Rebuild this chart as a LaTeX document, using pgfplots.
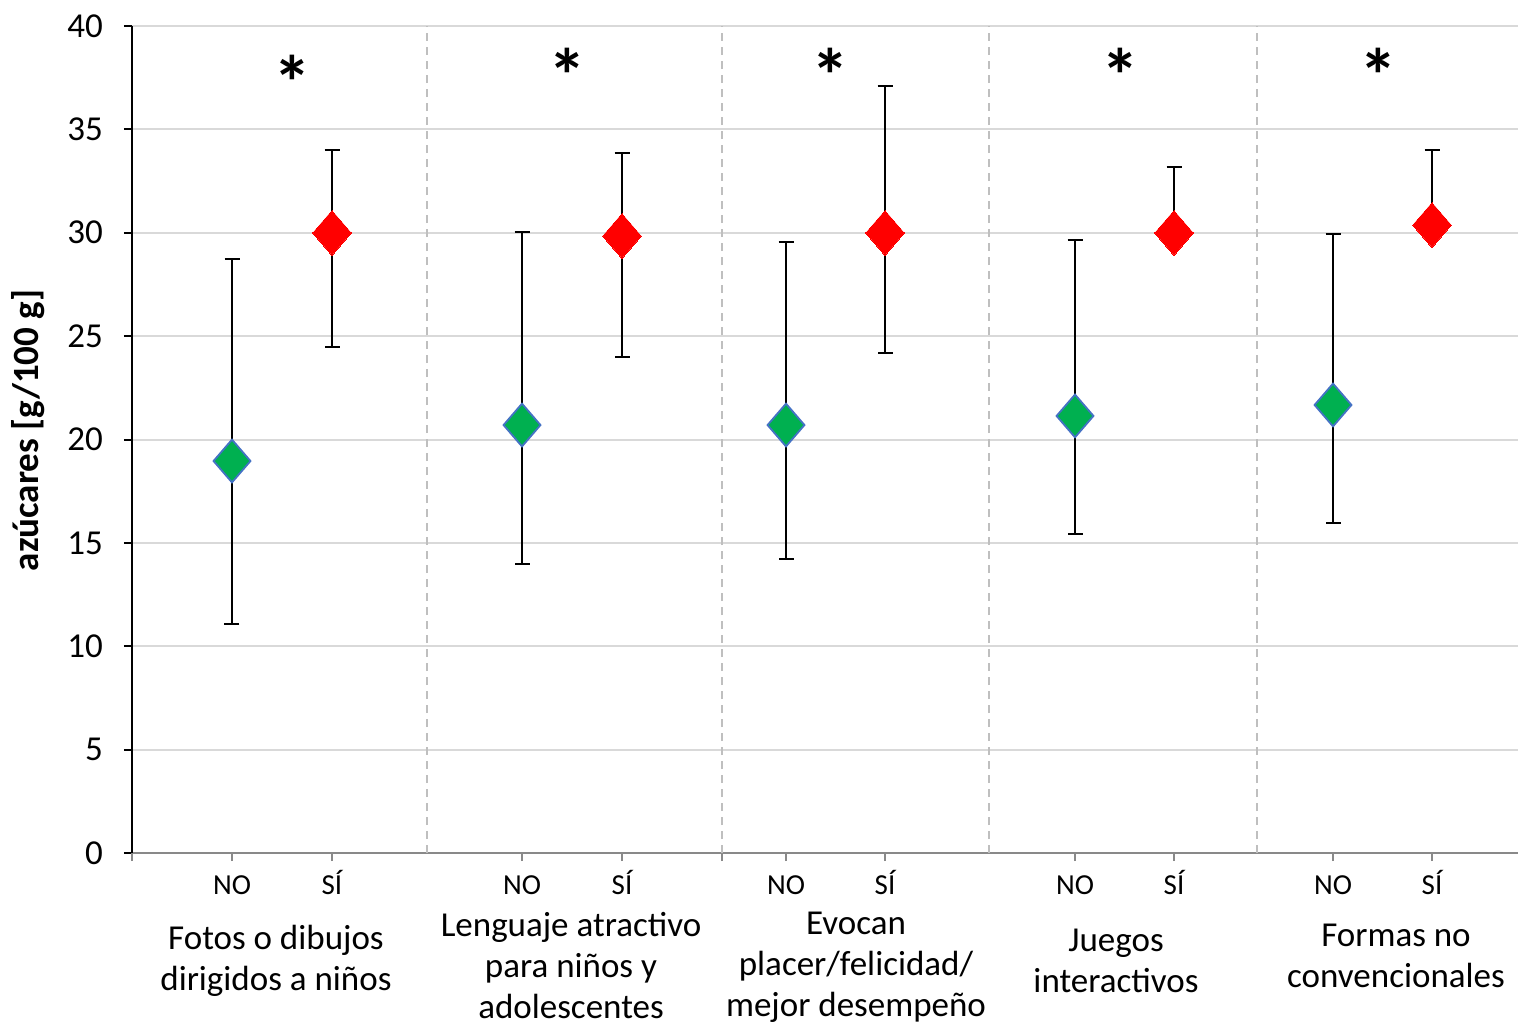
\documentclass[border=0pt]{standalone}
\usepackage{pgfplots}
\pgfplotsset{compat=1.18}
\usepackage{pgfplotstable}
\usepackage{fontspec}
\setmainfont{Carlito}
\definecolor{gridc}{HTML}{D9D9D9}
\definecolor{sepc}{HTML}{BFBFBF}
\definecolor{axgray}{HTML}{898989}
\definecolor{mygreen}{HTML}{00B050}
\definecolor{myblue}{HTML}{4472C4}
\definecolor{myred}{HTML}{FF0000}

\pgfplotstableread{
x y ep em
232 18.96 9.77 7.88
522 20.70 9.34 6.72
786 20.70 8.85 6.48
1075 21.14 8.51 5.71
1333 21.67 8.27 5.71
}\nodata

\pgfplotstableread{
x y ep em
332 29.99 4.01 5.52
622 29.84 4.02 5.85
885 29.99 7.11 5.81
1174 29.99 3.19 0
1432 30.37 3.63 0
}\sidata

\begin{document}
\begin{tikzpicture}
\path[use as bounding box] (-66pt,-85.5pt) rectangle (693pt,426.5pt);
\begin{axis}[
  at={(0,0)}, anchor=south west,
  width=693pt, height=413.5pt, scale only axis,
  xmin=132, xmax=1518, ymin=0, ymax=40,
  clip=false,
  axis x line*=bottom, axis y line*=left,
  x axis line style={color=axgray, line width=1pt},
  y axis line style={color=black, line width=1pt},
  ytick={0,5,...,40},
  ymajorgrids, grid style={gridc, line width=1pt},
  tick align=outside, major tick length=4pt,
  xtick style={axgray, line width=1pt},
  ytick style={black, line width=1pt},
  xtick={232,332,522,622,786,885,1075,1174,1333,1432},
  xticklabels={NO,SÍ,NO,SÍ,NO,SÍ,NO,SÍ,NO,SÍ},
  extra x ticks={132,722},
  extra x tick labels={},
  extra x tick style={xtick style={axgray, line width=1pt}},
  xticklabel style={font=\fontsize{14.5}{16}\selectfont, text height=11pt, text depth=0pt, yshift=-2pt},
  yticklabel style={font=\fontsize{17.5}{20}\selectfont, xshift=-7pt},
  /pgf/number format/assume math mode=true,
  ylabel={azúcares [g/100 g]},
  ylabel style={font=\fontsize{18.5}{20}\selectfont\bfseries, at={(axis description cs:0,0.511)}, anchor=center, yshift=52pt},
]
\foreach \s in {427,722,989,1257}{
  \edef\tmp{\noexpand\draw[sepc, line width=0.8pt, dash pattern=on 4pt off 3pt] (axis cs:\s,0) -- (axis cs:\s,40);}
  \tmp
}
\addplot[only marks, mark=diamond*, mark size=10.7pt,
  mark options={fill=mygreen, draw=myblue, line width=0.9pt, xscale=1.15},
  error bars/.cd, y dir=both, y explicit,
  error bar style={black, line width=1pt},
  error mark options={rotate=90, mark size=3.75pt, line width=1pt, black}]
  table[x=x, y=y, y error plus=ep, y error minus=em] {\nodata};
\addplot[only marks, mark=diamond*, mark size=11.2pt,
  mark options={fill=myred, draw=myred, line width=0pt, xscale=1.15},
  error bars/.cd, y dir=both, y explicit,
  error bar style={black, line width=1pt},
  error mark options={rotate=90, mark size=3.75pt, line width=1pt, black}]
  table[x=x, y=y, y error plus=ep, y error minus=em] {\sidata};
\tikzset{cat/.style={font=\fontsize{17.5}{20.5}\selectfont, align=center, anchor=center}}
\node[cat] at (axis cs:276,-5.2) {Fotos o dibujos\\dirigidos a niños};
\node[cat] at (axis cs:571,-5.42) {Lenguaje atractivo\\para niños y\\adolescentes};
\node[cat] at (axis cs:856,-5.52) {Evocan\\placer/felicidad/\\mejor desempeño};
\node[cat] at (axis cs:1116,-5.2) {Juegos\\interactivos};
\node[cat] at (axis cs:1396,-4.96) {Formas no\\convencionales};
\tikzset{ast/.style={font=\fontsize{38}{38}\selectfont\bfseries, anchor=center, inner sep=0pt}}
\node[ast] at (axis cs:292,37.27) {*};
\node[ast] at (axis cs:567,37.6) {*};
\node[ast] at (axis cs:830,37.6) {*};
\node[ast] at (axis cs:1120,37.6) {*};
\node[ast] at (axis cs:1378,37.6) {*};
\end{axis}
\end{tikzpicture}
\end{document}
